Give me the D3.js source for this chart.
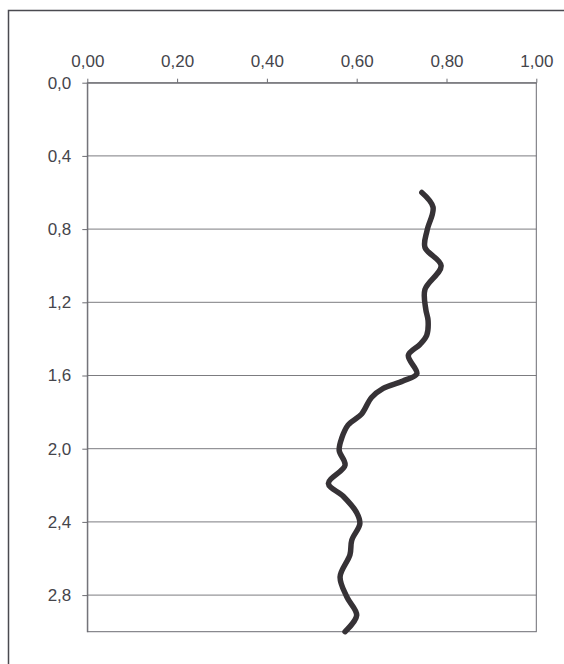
<!DOCTYPE html>
<html><head><meta charset="utf-8">
<script src="https://cdn.jsdelivr.net/npm/d3@7"></script>
<style>html,body{margin:0;padding:0;background:#fff;}svg{display:block;}
.lbl text{font-family:"Liberation Sans",Arial,sans-serif !important;font-size:17px !important;fill:#45454b;}</style>
</head><body>
<svg id="c" width="564" height="664"></svg>
<script>
// Data: x = value (0..1), depth = y (0..3)
const depth = [0.60,0.68,0.805,0.90,1.00,1.13,1.24,1.30,1.38,1.43,1.49,1.59,1.63,1.67,1.72,1.81,1.87,1.94,2.01,2.09,2.19,2.26,2.35,2.41,2.50,2.58,2.70,2.81,2.91,3.00];
const value = [0.745,0.770,0.757,0.752,0.788,0.752,0.754,0.759,0.756,0.741,0.715,0.734,0.703,0.659,0.633,0.611,0.581,0.567,0.561,0.574,0.537,0.570,0.600,0.607,0.589,0.585,0.563,0.578,0.600,0.574];
const xTicks = [0,0.2,0.4,0.6,0.8,1.0];
const yTicks = [0,0.4,0.8,1.2,1.6,2.0,2.4,2.8];

(function(){
const svg = d3.select("#c");
const pL = 87.3, pR = 536.3, pT = 82.7, pB = 631.7;
const x = d3.scaleLinear().domain([0,1]).range([pL,pR]);
const y = d3.scaleLinear().domain([0,3]).range([pT,pB]);
const fmtX = v => d3.format(".2f")(v).replace(".", ",");
const fmtY = v => d3.format(".1f")(v).replace(".", ",");

// outer frame (border of the surrounding chart area)
svg.append("path").attr("d", `M8.5,664 V10.5 H564`).attr("fill","none").attr("stroke","#4a4a50").attr("stroke-width",1.5);

// gridlines
svg.append("g").selectAll("line").data(yTicks.filter(d=>d>0)).join("line")
  .attr("x1", pL).attr("x2", pR).attr("y1", d=>y(d)).attr("y2", d=>y(d))
  .attr("stroke","#7c7c80").attr("stroke-width",1);

// plot border
svg.append("rect").attr("x",pL).attr("y",pT).attr("width",pR-pL).attr("height",pB-pT)
  .attr("fill","none").attr("stroke","#6c6c72").attr("stroke-width",1);

// top x axis
const xAxis = d3.axisTop(x).tickValues(xTicks).tickFormat(fmtX).tickSizeInner(4).tickSizeOuter(0).tickPadding(12);
const gx = svg.append("g").attr("class","lbl").attr("transform",`translate(0,${pT})`).call(xAxis);
gx.select(".domain").attr("stroke","#6c6c72");
gx.selectAll(".tick line").attr("stroke","#6c6c72");

// left y axis
const yAxis = d3.axisLeft(y).tickValues(yTicks).tickFormat(fmtY).tickSizeInner(5).tickSizeOuter(0).tickPadding(11);
const gy = svg.append("g").attr("class","lbl").attr("transform",`translate(${pL},0)`).call(yAxis);
gy.select(".domain").attr("stroke","#6c6c72");
gy.selectAll(".tick line").attr("stroke","#6c6c72");

// the curve
const pts = depth.map((d,i)=>({d, v:value[i]}));
const line = d3.line().x(p=>x(p.v)).y(p=>y(p.d)).curve(d3.curveCatmullRom.alpha(0.5));
svg.append("path").datum(pts).attr("d", line).attr("fill","none")
  .attr("stroke","#363236").attr("stroke-width",5.5).attr("stroke-linecap","round").attr("stroke-linejoin","round");
})();
</script>
</body></html>
